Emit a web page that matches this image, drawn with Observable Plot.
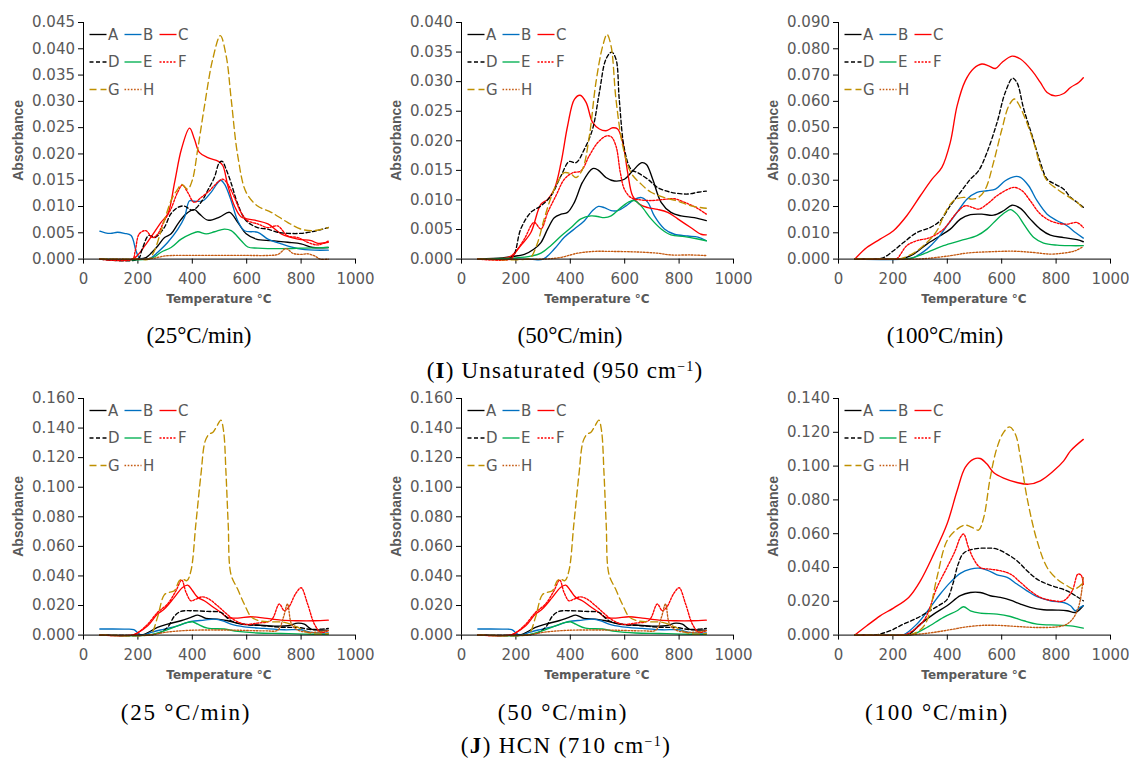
<!DOCTYPE html>
<html>
<head>
<meta charset="utf-8">
<script src="https://cdn.jsdelivr.net/npm/d3@7"></script>
<script src="https://cdn.jsdelivr.net/npm/@observablehq/plot@0.6"></script>
<style>
  html, body { margin: 0; padding: 0; background: #fff; }
  #root { position: relative; width: 1129px; height: 760px; overflow: hidden; background: #fff; }
  .panel { position: absolute; }
  .cap { position: absolute; font-family: "Liberation Serif", "DejaVu Serif", serif; font-size: 23px; color: #000;
         white-space: nowrap; transform: translate(-50%, -50%); line-height: 1; }
</style>
</head>
<body>
<div id="root"></div>
<script>
// ---------- series names & tick values ----------
const seriesNames = ["A", "B", "C", "D", "E", "F", "G", "H"];
const legendRows = [["A", "B", "C"], ["D", "E", "F"], ["G", "H"]];
const xTicks = [0, 200, 400, 600, 800, 1000];
const yTicksU25 = [0, 0.005, 0.010, 0.015, 0.020, 0.025, 0.030, 0.035, 0.040, 0.045];
const yTicksU50 = [0, 0.005, 0.010, 0.015, 0.020, 0.025, 0.030, 0.035, 0.040];
const yTicksU100 = [0, 0.010, 0.020, 0.030, 0.040, 0.050, 0.060, 0.070, 0.080, 0.090];
const yTicksH25 = [0, 0.020, 0.040, 0.060, 0.080, 0.100, 0.120, 0.140, 0.160];
const yTicksH100 = [0, 0.020, 0.040, 0.060, 0.080, 0.100, 0.120, 0.140];
const captionsTop = ["(25°C/min)", "(50°C/min)", "(100°C/min)"];
const captionsBottom = ["(25 °C/min)", "(50 °C/min)", "(100 °C/min)"];

// ---------- (I) Unsaturated, 25 °C/min : [temperature °C, absorbance] ----------
const u25A = [[60,0],[200,0],[230,0.0003],[250,0.0012],[273,0.0025],[298,0.0041],[322,0.0048],[347,0.0067],[377,0.0086],[408,0.0094],[426,0.0086],[457,0.0074],[500,0.008],[537,0.0089],[567,0.007],[598,0.0048],[635,0.0038],[690,0.0035],[751,0.0032],[800,0.0029],[843,0.0022],[900,0.0022]];
const u25B = [[60,0.0053],[80,0.005],[100,0.0049],[125,0.0051],[150,0.0049],[175,0.0045],[193,0.0016],[206,0.0002],[230,0],[250,0.0003],[273,0.0013],[310,0.0032],[347,0.0057],[371,0.0079],[390,0.0111],[408,0.011],[439,0.0111],[469,0.0127],[504,0.015],[518,0.0143],[543,0.0111],[567,0.0073],[592,0.0054],[641,0.0051],[678,0.0038],[727,0.0029],[788,0.002],[849,0.0017],[900,0.0017]];
const u25C = [[60,0],[180,0],[200,0.0008],[225,0.0025],[260,0.0051],[285,0.007],[310,0.0086],[335,0.0146],[360,0.0209],[390,0.0249],[408,0.0228],[426,0.0203],[457,0.0193],[496,0.0186],[512,0.0178],[531,0.0139],[555,0.0101],[580,0.008],[630,0.0074],[678,0.0067],[727,0.0048],[788,0.0038],[837,0.0035],[862,0.003],[900,0.0032]];
const u25D = [[60,0],[200,0],[215,0.0018],[240,0.0045],[262,0.0041],[297,0.006],[321,0.0086],[346,0.0098],[370,0.0101],[401,0.0093],[432,0.0108],[456,0.013],[481,0.0155],[499,0.0183],[510,0.0186],[525,0.017],[542,0.0146],[567,0.0105],[598,0.0073],[640,0.006],[677,0.0057],[714,0.0051],[751,0.0049],[800,0.0049],[849,0.0053],[900,0.006]];
const u25E = [[60,0],[240,0],[260,0.0004],[285,0.0013],[322,0.0022],[359,0.0038],[396,0.0048],[420,0.0052],[451,0.0048],[482,0.0052],[518,0.0057],[543,0.0054],[580,0.0035],[604,0.0023],[641,0.0021],[727,0.002],[813,0.0021],[900,0.0022]];
const u25F = [[60,0],[180,0],[190,0.0015],[205,0.0048],[229,0.0054],[254,0.0041],[272,0.0047],[297,0.0073],[321,0.0095],[346,0.0127],[364,0.0141],[383,0.0127],[407,0.0108],[432,0.0117],[463,0.013],[493,0.0146],[512,0.0152],[530,0.0143],[555,0.0117],[579,0.0089],[604,0.0073],[640,0.0067],[677,0.006],[714,0.0063],[751,0.0044],[788,0.0041],[824,0.0032],[861,0.0027],[900,0.0034]];
const u25G = [[60,0],[200,0],[240,0],[260,0.0015],[280,0.0045],[300,0.0078],[325,0.0115],[345,0.0132],[360,0.0142],[383,0.0133],[400,0.015],[420,0.0209],[445,0.0292],[475,0.038],[503,0.0425],[525,0.0385],[543,0.0304],[567,0.0197],[598,0.0127],[640,0.0101],[690,0.0089],[750,0.007],[800,0.0057],[845,0.0054],[900,0.006]];
const u25H = [[60,0],[220,0],[260,0.0002],[300,0.0006],[340,0.0007],[400,0.0007],[500,0.0007],[600,0.0007],[680,0.0007],[715,0.0009],[745,0.002],[770,0.0011],[800,0.0009],[825,0.001],[850,0.0006],[870,0],[900,0]];

// ---------- (I) Unsaturated, 50 °C/min ----------
const u50A = [[60,0],[150,0.0002],[182,0.0004],[231,0.0008],[267,0.0017],[292,0.0028],[317,0.0051],[341,0.007],[366,0.0076],[390,0.0079],[415,0.0096],[445,0.013],[482,0.0153],[501,0.0151],[531,0.0138],[562,0.0132],[599,0.0135],[629,0.0149],[663,0.0163],[680,0.016],[703,0.0135],[734,0.0096],[770,0.0079],[807,0.0073],[856,0.007],[900,0.0065]];
const u50B = [[60,0],[250,0],[300,0],[341,0.0017],[378,0.0037],[415,0.0051],[452,0.0065],[482,0.0082],[503,0.0089],[525,0.0087],[550,0.0082],[574,0.0082],[605,0.009],[636,0.0101],[662,0.0104],[685,0.0096],[709,0.0073],[746,0.0051],[783,0.0042],[832,0.0039],[869,0.0037],[900,0.0031]];
const u50C = [[60,0],[150,0.0001],[182,0.0005],[218,0.0023],[255,0.0045],[292,0.0093],[317,0.0101],[341,0.0118],[366,0.0163],[390,0.0225],[415,0.027],[436,0.0277],[458,0.0265],[482,0.0231],[507,0.022],[531,0.0217],[556,0.0222],[574,0.022],[593,0.0197],[611,0.0146],[629,0.0107],[654,0.0093],[685,0.0087],[721,0.0084],[758,0.0079],[795,0.0068],[844,0.0053],[881,0.0042],[900,0.0041]];
const u50D = [[60,0],[180,0.0002],[194,0.0008],[218,0.0051],[255,0.0079],[292,0.009],[329,0.0107],[366,0.0141],[396,0.0165],[421,0.0163],[452,0.0186],[482,0.022],[507,0.0282],[531,0.0338],[552,0.035],[568,0.0338],[580,0.027],[599,0.0186],[623,0.0152],[648,0.0146],[685,0.0135],[721,0.0121],[770,0.0113],[832,0.011],[869,0.0113],[900,0.0115]];
const u50E = [[60,0],[150,0.0001],[200,0.0002],[255,0.0005],[292,0.001],[329,0.0023],[366,0.0039],[402,0.0053],[439,0.0068],[476,0.0073],[501,0.0072],[525,0.007],[550,0.0073],[586,0.0087],[617,0.0097],[636,0.0099],[660,0.009],[697,0.0068],[734,0.0051],[770,0.0041],[820,0.0038],[869,0.0034],[900,0.0031]];
const u50F = [[60,0],[180,0],[194,0.0008],[231,0.0034],[267,0.0062],[292,0.0051],[317,0.0079],[347,0.0107],[378,0.0135],[409,0.0146],[439,0.0149],[470,0.0175],[501,0.0197],[531,0.0208],[550,0.0207],[568,0.0191],[584,0.0146],[599,0.0118],[623,0.0104],[660,0.01],[697,0.0099],[746,0.0101],[783,0.0102],[820,0.0096],[863,0.0087],[900,0.0076]];
const u50G = [[60,0],[240,0],[255,0.0003],[280,0.0028],[304,0.0068],[329,0.0104],[353,0.013],[378,0.0146],[402,0.0144],[421,0.0138],[445,0.0152],[470,0.0208],[494,0.0298],[519,0.036],[535,0.038],[550,0.036],[568,0.027],[593,0.0191],[623,0.0146],[660,0.0127],[697,0.0113],[746,0.0104],[795,0.0098],[844,0.009],[900,0.0086]];
const u50H = [[60,0],[300,0],[366,0.0003],[427,0.001],[488,0.0013],[550,0.0013],[648,0.0012],[721,0.001],[770,0.0007],[844,0.0007],[900,0.0006]];

// ---------- (I) Unsaturated, 100 °C/min ----------
const u100A = [[60,0],[200,0],[240,0.0003],[276,0.0019],[325,0.0057],[374,0.0089],[411,0.0114],[448,0.0152],[485,0.0169],[527,0.0171],[570,0.0167],[607,0.0184],[638,0.0205],[669,0.0193],[705,0.0152],[742,0.0114],[779,0.0091],[828,0.0082],[877,0.0074],[900,0.0066]];
const u100B = [[60,0],[240,0],[276,0.0006],[325,0.0038],[362,0.0076],[399,0.0127],[436,0.0178],[472,0.0228],[509,0.0254],[546,0.026],[577,0.0266],[613,0.0298],[648,0.0314],[669,0.0311],[699,0.0279],[730,0.0222],[767,0.0171],[804,0.0146],[840,0.0127],[871,0.0101],[900,0.008]];
const u100C = [[60,0],[104,0.0044],[153,0.0076],[202,0.0108],[251,0.0165],[301,0.0241],[344,0.0304],[380,0.0349],[411,0.0444],[436,0.0583],[466,0.0678],[497,0.0725],[527,0.0742],[552,0.0735],[577,0.0725],[601,0.0748],[638,0.0772],[669,0.0761],[712,0.0716],[742,0.0672],[767,0.0634],[797,0.0621],[828,0.063],[853,0.0653],[883,0.0672],[900,0.069]];
const u100D = [[60,0],[140,0.0001],[166,0.0006],[202,0.0032],[239,0.0063],[288,0.0101],[337,0.012],[374,0.0146],[411,0.0203],[448,0.0254],[485,0.0304],[515,0.0336],[546,0.0406],[583,0.052],[613,0.0634],[640,0.0688],[656,0.0672],[681,0.0571],[712,0.0469],[742,0.0368],[767,0.0304],[797,0.0285],[828,0.0266],[853,0.0235],[877,0.0216],[900,0.0197]];
const u100E = [[60,0],[220,0],[264,0.0003],[325,0.0025],[386,0.0051],[448,0.007],[509,0.0089],[546,0.0114],[583,0.0152],[613,0.0178],[632,0.0188],[656,0.0171],[681,0.0133],[718,0.0082],[754,0.0061],[804,0.0053],[853,0.0051],[900,0.0051]];
const u100F = [[60,0],[200,0],[215,0.0002],[251,0.0051],[288,0.007],[337,0.0082],[386,0.0114],[436,0.0178],[466,0.0203],[491,0.0197],[515,0.019],[546,0.0209],[583,0.0241],[620,0.0264],[646,0.0273],[675,0.026],[705,0.0222],[736,0.0178],[767,0.0152],[804,0.0137],[840,0.0133],[877,0.0139],[900,0.012]];
const u100G = [[60,0],[200,0],[227,0.0001],[276,0.0023],[325,0.0063],[362,0.0108],[393,0.0178],[423,0.0222],[460,0.0235],[491,0.0228],[515,0.0235],[540,0.0266],[570,0.0368],[601,0.0495],[626,0.0583],[647,0.0609],[662,0.059],[687,0.0533],[718,0.0444],[742,0.0355],[767,0.0298],[804,0.0266],[840,0.0241],[877,0.0216],[900,0.0193]];
const u100H = [[60,0],[280,0],[330,0.0003],[411,0.0013],[472,0.0023],[558,0.0028],[644,0.003],[718,0.0025],[779,0.0019],[828,0.0023],[871,0.0032],[900,0.0048]];

// ---------- (J) HCN, 25 °C/min (the 50 °C/min panel shows the same curves) ----------
const h25A = [[60,0],[200,0],[223,0.0005],[272,0.0052],[309,0.0074],[358,0.0097],[395,0.012],[420,0.0135],[450,0.0113],[493,0.0108],[530,0.0097],[579,0.0074],[640,0.0068],[702,0.0061],[751,0.0063],[788,0.0081],[812,0.0074],[837,0.0041],[873,0.0034],[900,0.0034]];
const h25B = [[60,0.0041],[100,0.0041],[150,0.004],[185,0.0037],[200,0.0015],[210,0.0002],[230,0.0005],[248,0.0018],[297,0.0041],[346,0.0063],[395,0.0092],[444,0.0101],[481,0.0108],[512,0.0097],[542,0.0074],[591,0.0056],[665,0.0045],[739,0.0036],[800,0.0036],[837,0.0018],[900,0.0014]];
const h25C = [[60,0],[180,0],[199,0.0015],[236,0.0063],[272,0.0142],[297,0.0176],[334,0.0255],[364,0.0322],[383,0.0338],[401,0.03],[420,0.0255],[444,0.0232],[475,0.0192],[505,0.0153],[530,0.0119],[567,0.0115],[616,0.0124],[665,0.0115],[726,0.0101],[788,0.0097],[849,0.0097],[900,0.0101]];
const h25D = [[60,0],[240,0],[280,0.0015],[310,0.0055],[335,0.013],[358,0.016],[395,0.0165],[456,0.016],[505,0.0153],[542,0.0097],[591,0.0074],[665,0.0063],[739,0.0052],[788,0.0052],[837,0.0038],[900,0.0045]];
const h25E = [[60,0],[240,0],[297,0.0029],[346,0.0063],[383,0.0086],[401,0.009],[420,0.0074],[456,0.0047],[518,0.0041],[567,0.0025],[640,0.0014],[726,0.0011],[812,0.0007],[900,0.0005]];
const h25F = [[60,0],[180,0],[199,0.0015],[236,0.0074],[272,0.0153],[309,0.021],[340,0.03],[361,0.0372],[377,0.0289],[395,0.0232],[413,0.0243],[438,0.0259],[462,0.0243],[493,0.0198],[524,0.0147],[555,0.0101],[591,0.0074],[640,0.0081],[690,0.0101],[720,0.021],[738,0.0165],[755,0.019],[780,0.028],[800,0.032],[824,0.021],[849,0.0074],[873,0.0018],[900,0.003]];
const h25G = [[60,0],[240,0],[250,0.0008],[272,0.012],[297,0.0272],[315,0.0289],[334,0.03],[352,0.0367],[364,0.0379],[380,0.0368],[395,0.0435],[413,0.075],[432,0.109],[447,0.131],[462,0.136],[475,0.137],[491,0.1415],[505,0.1454],[515,0.138],[524,0.109],[532,0.075],[542,0.0412],[567,0.031],[591,0.021],[616,0.0125],[647,0.0097],[690,0.009],[739,0.0086],[788,0.0052],[824,0.0018],[861,0.0007],[900,0.0011]];
const h25H = [[60,0],[240,0],[297,0.0018],[358,0.0029],[420,0.0034],[542,0.0034],[665,0.0029],[715,0.0034],[735,0.012],[750,0.021],[765,0.0074],[788,0.0034],[837,0.0018],[900,0.003]];

// ---------- (J) HCN, 100 °C/min ----------
const h100A = [[60,0],[240,0],[260,0.0005],[301,0.0065],[350,0.0124],[399,0.0174],[448,0.0233],[485,0.0252],[521,0.0252],[558,0.0233],[595,0.0223],[632,0.0207],[669,0.0183],[705,0.0164],[754,0.015],[804,0.0148],[840,0.0144],[871,0.0134],[889,0.0154],[900,0.0174]];
const h100B = [[60,0],[220,0],[239,0.0002],[288,0.0065],[337,0.0164],[374,0.0243],[411,0.0312],[448,0.0365],[485,0.039],[515,0.0396],[546,0.0385],[583,0.0357],[620,0.0341],[656,0.0302],[693,0.0262],[730,0.0227],[779,0.0203],[828,0.0193],[853,0.0174],[871,0.0144],[889,0.0164],[900,0.0174]];
const h100C = [[60,0],[104,0.0055],[153,0.0114],[202,0.016],[258,0.0223],[301,0.0321],[350,0.0479],[399,0.0657],[436,0.0854],[466,0.0992],[497,0.1041],[521,0.1045],[546,0.1012],[570,0.0962],[607,0.0929],[656,0.0903],[699,0.0893],[742,0.0913],[791,0.0972],[828,0.1031],[853,0.109],[900,0.1158]];
const h100D = [[60,0],[141,0.0003],[190,0.0026],[239,0.0065],[288,0.01],[337,0.0145],[374,0.018],[399,0.021],[420,0.03],[440,0.042],[460,0.0485],[497,0.0509],[546,0.0515],[583,0.0509],[620,0.0479],[656,0.044],[693,0.0381],[730,0.0331],[767,0.0302],[804,0.0282],[840,0.0262],[871,0.0233],[900,0.0203]];
const h100E = [[60,0],[250,0],[275,0.0005],[325,0.0045],[386,0.0105],[436,0.0144],[460,0.0168],[485,0.0144],[521,0.013],[583,0.0124],[632,0.011],[681,0.0085],[730,0.0065],[804,0.0059],[853,0.0055],[900,0.0041]];
const h100F = [[60,0],[230,0],[251,0.0006],[313,0.0085],[362,0.0282],[399,0.04],[429,0.0499],[448,0.0578],[460,0.0598],[478,0.0519],[497,0.045],[521,0.04],[558,0.039],[595,0.0381],[632,0.0361],[669,0.0312],[705,0.0262],[742,0.0223],[791,0.0203],[828,0.0203],[859,0.0262],[880,0.036],[892,0.0355],[900,0.03]];
const h100G = [[60,0],[240,0],[264,0.0002],[300,0.003],[325,0.0085],[362,0.0341],[399,0.0558],[436,0.0627],[466,0.0651],[497,0.0633],[515,0.0621],[534,0.0696],[558,0.0933],[583,0.111],[607,0.12],[629,0.1232],[650,0.119],[669,0.105],[693,0.0814],[730,0.0558],[767,0.04],[804,0.0331],[840,0.0292],[868,0.0272],[900,0.031]];
const h100H = [[60,0],[240,0],[290,0.0005],[350,0.0016],[411,0.0032],[472,0.0049],[534,0.0058],[595,0.0057],[656,0.0051],[730,0.0045],[804,0.0049],[840,0.0065],[865,0.0105],[885,0.018],[900,0.034]];

// ---------- styles ----------
const seriesStyle = {
  A: {stroke: "#000000", dash: null},
  B: {stroke: "#0070C0", dash: null},
  C: {stroke: "#FF0000", dash: null},
  D: {stroke: "#000000", dash: "4,2.5"},
  E: {stroke: "#00B050", dash: null},
  F: {stroke: "#FF0000", dash: "2,1.5"},
  G: {stroke: "#BF9000", dash: "7,4"},
  H: {stroke: "#C55A11", dash: "1.6,1.6"}
};

const W = 372, H = 310, MT = 22, PH = 236.6, ML = 82, MR = 18;
const panels = [
  {left: 0.5,   top: -0.3,  yMax: 0.045, yTicks: yTicksU25,  series: {A:u25A,B:u25B,C:u25C,D:u25D,E:u25E,F:u25F,G:u25G,H:u25H}},
  {left: 378.7, top: -0.3,  yMax: 0.040, yTicks: yTicksU50,  series: {A:u50A,B:u50B,C:u50C,D:u50D,E:u50E,F:u50F,G:u50G,H:u50H}},
  {left: 756.3, top: -0.3,  yMax: 0.090, yTicks: yTicksU100, series: {A:u100A,B:u100B,C:u100C,D:u100D,E:u100E,F:u100F,G:u100G,H:u100H}},
  {left: 0.5,   top: 375.7, yMax: 0.160, yTicks: yTicksH25,  series: {A:h25A,B:h25B,C:h25C,D:h25D,E:h25E,F:h25F,G:h25G,H:h25H}},
  {left: 378.7, top: 375.7, yMax: 0.160, yTicks: yTicksH25,  series: {A:h25A,B:h25B,C:h25C,D:h25D,E:h25E,F:h25F,G:h25G,H:h25H}},
  {left: 756.3, top: 375.7, yMax: 0.140, yTicks: yTicksH100, series: {A:h100A,B:h100B,C:h100C,D:h100D,E:h100E,F:h100F,G:h100G,H:h100H}}
];

const root = document.getElementById("root");

for (const p of panels) {
  const marks = [
    Plot.axisX(xTicks, {anchor: "bottom", tickSize: 5, tickPadding: 9, stroke: "#000", color: "#595959",
                        tickFormat: d => String(d), label: null}),
    Plot.axisY(p.yTicks, {anchor: "left", tickSize: 5, tickPadding: 3.5, stroke: "#000", color: "#595959",
                          tickFormat: d => d.toFixed(3), label: null})
  ];
  for (const s of seriesNames) {
    const st = seriesStyle[s];
    const opts = {x: d => d[0], y: d => d[1], stroke: st.stroke, strokeWidth: 1.35, curve: "catmull-rom"};
    if (st.dash) opts.strokeDasharray = st.dash;
    marks.push(Plot.line(p.series[s], opts));
  }
  marks.push(Plot.ruleY([0], {stroke: "#000", strokeWidth: 1}));
  marks.push(Plot.ruleX([0], {stroke: "#000", strokeWidth: 1}));

  const svgNode = Plot.plot({
    width: W, height: H,
    marginLeft: ML, marginRight: MR, marginTop: MT, marginBottom: H - MT - PH,
    x: {domain: [0, 1000]},
    y: {domain: [0, p.yMax]},
    style: {fontFamily: "DejaVu Sans", fontSize: "15px", overflow: "visible", background: "transparent"},
    marks
  });

  const svg = d3.select(svgNode);
  // legend inside the plot area (top-left)
  const rowY = [12.5, 40, 67.5];
  const colX = [6.5, 41.5, 76.5];
  const lg = svg.append("g").attr("text-anchor", "start");
  legendRows.forEach((row, ri) => {
    row.forEach((s, ci) => {
      const st = seriesStyle[s];
      const x0 = ML + colX[ci], y0 = MT + rowY[ri];
      const ln = lg.append("line").attr("x1", x0).attr("x2", x0 + 17).attr("y1", y0).attr("y2", y0)
        .attr("stroke", st.stroke).attr("stroke-width", 1.35);
      if (st.dash) ln.attr("stroke-dasharray", st.dash);
      lg.append("text").attr("x", x0 + 18.5).attr("y", y0 + 5.4).attr("text-anchor", "start")
        .attr("fill", "#595959").attr("font-family", "DejaVu Sans").attr("font-size", 15).text(s);
    });
  });
  // axis titles
  svg.append("text").attr("transform", `translate(21.5,${MT + PH / 2}) rotate(-90)`)
    .attr("text-anchor", "middle").attr("fill", "#595959").attr("font-weight", "bold")
    .attr("font-family", "Liberation Sans").attr("font-size", 14).text("Absorbance");
  svg.append("text").attr("x", ML + (W - ML - MR) / 2).attr("y", 303)
    .attr("text-anchor", "middle").attr("fill", "#595959").attr("font-weight", "bold")
    .attr("font-family", "DejaVu Sans").attr("font-size", 12).text("Temperature °C");

  const wrap = document.createElement("div");
  wrap.className = "panel";
  wrap.style.left = p.left + "px";
  wrap.style.top = p.top + "px";
  wrap.appendChild(svgNode);
  root.appendChild(wrap);
}

// captions
function addCaption(html, cx, cy, spacing) {
  const d = document.createElement("div");
  d.className = "cap";
  d.style.left = cx + "px";
  d.style.top = cy + "px";
  d.style.letterSpacing = spacing + "px";
  d.innerHTML = html;
  root.appendChild(d);
}
const capX = [199, 570, 945];
const capXB = [186, 563, 937];
captionsTop.forEach((t, i) => addCaption(t, capX[i], 335, 0));
captionsBottom.forEach((t, i) => addCaption(t, capXB[i], 712, 1.8));
addCaption("(<b>I</b>) Unsaturated (950 cm<sup style=\"font-size:14px;vertical-align:7px\">−1</sup>)", 565, 370, 1.2);
addCaption("(<b>J</b>) HCN (710 cm<sup style=\"font-size:14px;vertical-align:7px\">−1</sup>)", 566, 745, 1.4);
</script>
</body>
</html>
